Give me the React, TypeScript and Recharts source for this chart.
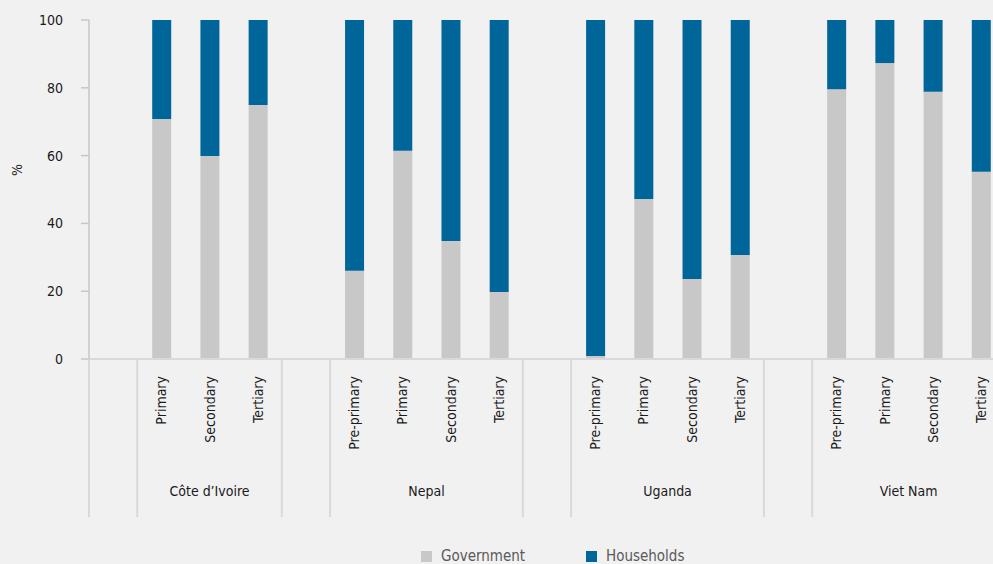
import React from 'react';
import { Bar, BarChart, XAxis, YAxis } from 'recharts';

// slot labels along the x axis (empty slots separate the countries)
const levels = [
  '', 'Primary', 'Secondary', 'Tertiary',
  '', 'Pre-primary', 'Primary', 'Secondary', 'Tertiary',
  '', 'Pre-primary', 'Primary', 'Secondary', 'Tertiary',
  '', 'Pre-primary', 'Primary', 'Secondary', 'Tertiary'
];

const countries = [
  '', 'Côte d’Ivoire', 'Côte d’Ivoire', 'Côte d’Ivoire',
  '', 'Nepal', 'Nepal', 'Nepal', 'Nepal',
  '', 'Uganda', 'Uganda', 'Uganda', 'Uganda',
  '', 'Viet Nam', 'Viet Nam', 'Viet Nam', 'Viet Nam'
];

const government = [
  null, 70.8, 59.9, 74.9,
  null, 26.0, 61.4, 34.8, 19.8,
  null, 0.9, 47.2, 23.6, 30.7,
  null, 79.6, 87.3, 78.8, 55.2
];

const households = [
  null, 29.2, 40.1, 25.1,
  null, 74.0, 38.6, 65.2, 80.2,
  null, 99.1, 52.8, 76.4, 69.3,
  null, 20.4, 12.7, 21.2, 44.8
];

const yTicks = [0, 20, 40, 60, 80, 100];

const data = levels.map((level, i) => ({
  key: `${i}`,
  level,
  country: countries[i],
  government: government[i],
  households: households[i]
}));

const FONT = '"DejaVu Sans Condensed", "Liberation Sans Narrow", sans-serif';
const FS = 14;
const CHART_W = 1005;
const CHART_H = 600;
const LEFT = 89;
const TOP = 20;
const PLOT_BOTTOM = 359;
const SLOT = (CHART_W - LEFT) / levels.length;
const SEP_BOTTOM = 517;

const CategoryTick = (props: any) => {
  const { x, y, payload } = props;
  const i = payload.index;
  const startsGroup = i === 0 || countries[i] !== countries[i - 1];
  let groupLen = 0;
  if (startsGroup) {
    while (i + groupLen < countries.length && countries[i + groupLen] === countries[i]) groupLen++;
  }
  const left = x - SLOT / 2;
  return (
    <g>
      {startsGroup && (
        <line x1={left} x2={left} y1={y} y2={SEP_BOTTOM} stroke="#d9d9d9" strokeWidth={2} />
      )}
      {startsGroup && countries[i] && (
        <text
          x={left + (groupLen * SLOT) / 2}
          y={496}
          textAnchor="middle"
          fontFamily={FONT}
          fontStretch="condensed"
          fontSize={FS}
          fill="#1a1a1a"
        >
          {countries[i]}
        </text>
      )}
      {levels[i] && (
        <text
          x={x}
          y={y + 17}
          dy="0.36em"
          textAnchor="end"
          transform={`rotate(-90 ${x} ${y + 17})`}
          fontFamily={FONT}
          fontStretch="condensed"
          fontSize={FS}
          fill="#1a1a1a"
        >
          {levels[i]}
        </text>
      )}
    </g>
  );
};

const LegendItem = ({ color, label, x }: { color: string; label: string; x: number }) => (
  <div style={{ position: 'absolute', left: x, top: 551, display: 'flex', alignItems: 'flex-start' }}>
    <div style={{ width: 11, height: 11, background: color }} />
    <span
      style={{
        marginLeft: 9,
        marginTop: -3,
        fontFamily: FONT,
        fontStretch: 'condensed',
        fontSize: 15,
        lineHeight: '17px',
        color: '#595959'
      }}
    >
      {label}
    </span>
  </div>
);

export default function App() {
  return (
    <div
      style={{
        position: 'fixed',
        left: 0,
        top: 0,
        width: 993,
        height: 564,
        overflow: 'hidden',
        background: '#f1f1f1'
      }}
    >
      <BarChart
        width={CHART_W}
        height={CHART_H}
        data={data}
        margin={{ top: TOP, right: 0, left: 0, bottom: 0 }}
        barCategoryGap={0}
      >
        <XAxis
          dataKey="key"
          height={CHART_H - PLOT_BOTTOM}
          axisLine={{ stroke: '#d9d9d9', strokeWidth: 2 }}
          tickLine={false}
          tickSize={0}
          tickMargin={0}
          interval={0}
          tick={<CategoryTick />}
        />
        <YAxis
          width={LEFT}
          domain={[0, 100]}
          ticks={yTicks}
          axisLine={{ stroke: '#c6c6c6', strokeWidth: 1.5 }}
          tickLine={{ stroke: '#c6c6c6', strokeWidth: 1.5 }}
          tickSize={8}
          tickMargin={18}
          tick={{ fontFamily: FONT, fontStretch: 'condensed', fontSize: FS, fill: '#1a1a1a' }}
          label={{
            content: () => (
              <text
                x={22}
                y={170}
                textAnchor="middle"
                transform="rotate(-90 22 170)"
                fontFamily={FONT}
                fontStretch="condensed"
                fontSize={FS}
                fill="#1a1a1a"
              >
                %
              </text>
            )
          }}
        />
        <Bar
          dataKey="government"
          stackId="a"
          fill="#c8c8c8"
          barSize={19}
          isAnimationActive={false}
        />
        <Bar
          dataKey="households"
          stackId="a"
          fill="#006699"
          barSize={19}
          isAnimationActive={false}
        />
      </BarChart>
      <LegendItem color="#c8c8c8" label="Government" x={421} />
      <LegendItem color="#006699" label="Households" x={586} />
    </div>
  );
}
